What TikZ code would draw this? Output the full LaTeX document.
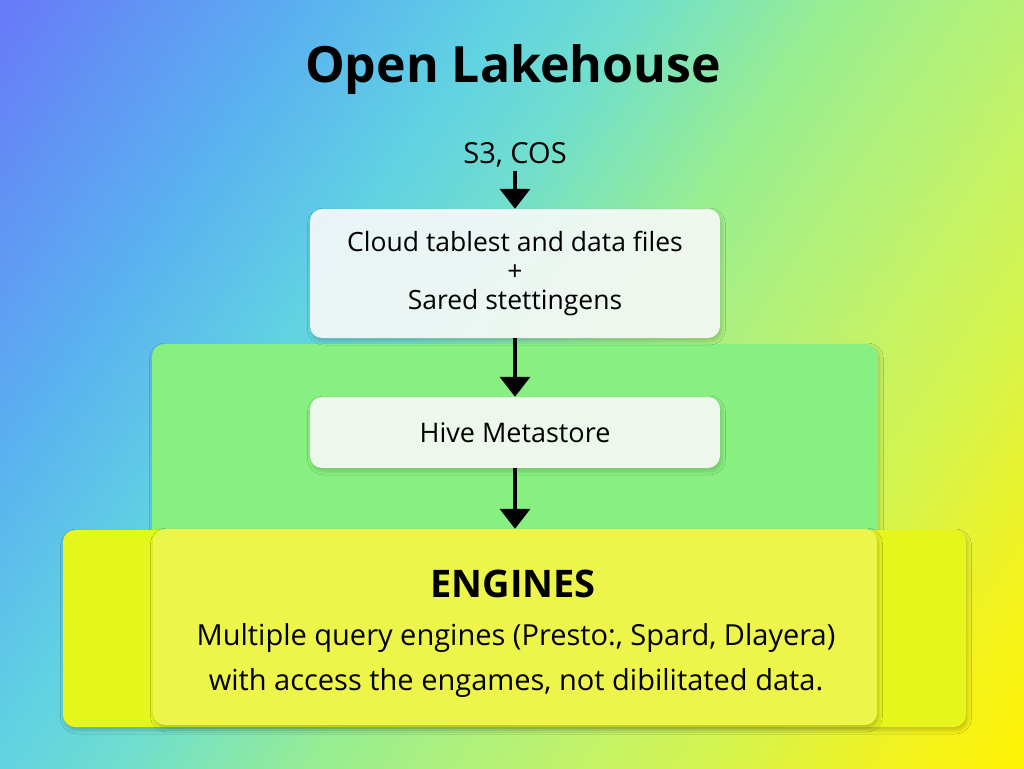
\documentclass[tikz,border=0pt]{standalone}
\usepackage{fontspec}
\setmainfont{Open Sans}
\usetikzlibrary{arrows.meta,shadows.blur}
\definecolor{c0}{HTML}{6878F8}
\definecolor{c1}{HTML}{5AB0F0}
\definecolor{c2}{HTML}{60D2E2}
\definecolor{c3}{HTML}{70DECE}
\definecolor{c4}{HTML}{98EE90}
\definecolor{c5}{HTML}{BCF270}
\definecolor{c6}{HTML}{D6F44C}
\definecolor{c7}{HTML}{F0F222}
\definecolor{c8}{HTML}{FFF200}
\definecolor{layergreen}{HTML}{88F080}
\definecolor{outeryellow}{HTML}{E6F51C}
\definecolor{inneryellow}{HTML}{EEF54A}
\pgfdeclarehorizontalshading{bgshade}{100bp}{color(0bp)=(c0); color(15bp)=(c0); color(29bp)=(c1); color(38bp)=(c2); color(44bp)=(c3); color(53bp)=(c4); color(62.5bp)=(c5); color(71bp)=(c6); color(78bp)=(c7); color(85bp)=(c8); color(100bp)=(c8)}
\begin{document}
\begin{tikzpicture}[x=1pt,y=-1pt,
  panel/.style={rounded corners=12pt, inner sep=0pt, align=center,
    blur shadow={shadow xshift=1.5pt, shadow yshift=-3pt, shadow opacity=22, shadow blur radius=4pt}},
  whitebox/.style={panel, fill=white, fill opacity=0.88, text opacity=1},
  arr/.style={line width=3.5pt, -{Triangle[width=30pt,length=20pt]}},
  titlefont/.style={font=\fontsize{50}{58}\selectfont\bfseries},
  bodyfont/.style={font=\fontsize{26.5}{29}\selectfont},
  descfont/.style={font=\fontsize{29}{32}\selectfont}
]
\useasboundingbox (0,0) rectangle (1024,768);
\shade[shading=bgshade, shading angle=-34] (0,0) rectangle (1024,768);

% title
\node[titlefont] (title) at (513,70) {Open Lakehouse};
\node[font=\fontsize{29}{32}\selectfont] (src) at (515,155) {S3, COS};

% layers
\node[panel, fill=layergreen, minimum width=726pt, minimum height=200pt] (metalayer) at (515,444) {};
\node[panel, fill=outeryellow, minimum width=903pt, minimum height=197pt] (outer) at (514.5,628.5) {};
\node[panel, fill=inneryellow, minimum width=724pt, minimum height=196pt] (engines) at (515,627) {};

% boxes
\node[whitebox, bodyfont, minimum width=410pt, minimum height=129pt] (cloud) at (515,273.5)
  {Cloud tablest and data files\\+\\Sared stettingens};
\node[whitebox, font=\fontsize{27}{30}\selectfont, minimum width=410pt, minimum height=71pt] (hive) at (515,432.5) {Hive Metastore};

% engines text
\node[font=\fontsize{38}{42}\selectfont\bfseries] (engtitle) at (513,584) {ENGINES};
\node[descfont] (engl1) at (516,638) {Multiple query engines (Presto:, Spard, Dlayera)};
\node[descfont] (engl2) at (516,683) {with access the engames, not dibilitated data.};

% arrows
\draw[arr] (src.south) -- (cloud.north);
\draw[arr] (cloud.south) -- (hive.north);
\draw[arr] (hive.south) -- (engines.north);
\end{tikzpicture}
\end{document}
